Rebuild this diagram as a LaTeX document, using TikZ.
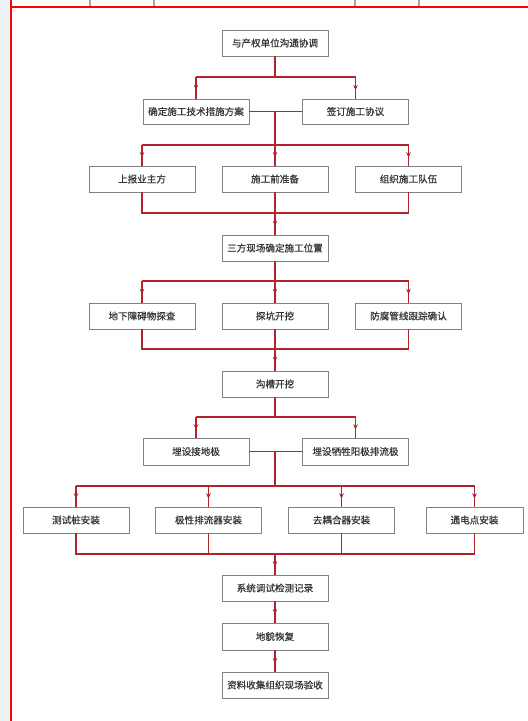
\documentclass[tikz,border=0pt]{standalone}
\usepackage{fontspec}
\newfontfamily\cjk[FakeBold=0.6]{Noto Sans CJK SC}
\usetikzlibrary{arrows.meta,decorations.markings,calc}
\definecolor{lred}{RGB}{178,36,44}
\definecolor{frame}{RGB}{250,0,0}
\definecolor{boxgray}{RGB}{130,130,130}
\definecolor{txtgray}{RGB}{55,55,55}
\definecolor{strip}{RGB}{236,241,246}
\begin{document}
\begin{tikzpicture}[x=1bp,y=-1bp,
  box/.style={draw=boxgray, line width=0.9bp, fill=white, minimum width=106bp, minimum height=26bp,
    inner sep=0pt, text=txtgray, font=\cjk\fontsize{9.6}{10}\selectfont},
  conn/.style={draw=lred, line width=1.9bp},
  marrow/.style={draw=lred, line width=1.9bp, postaction={decorate},
    decoration={markings, mark=at position 0.62 with {\arrow[lred]{Stealth[length=5.5bp,width=4.5bp]}}}}]
\useasboundingbox (0,0) rectangle (528,721);
\fill[white] (0,0) rectangle (528,721);
\fill[strip] (0,0) rectangle (9,721);
% page frame
\draw[gray!70, line width=1.2bp] (90,0) -- (90,6.5) (154,0) -- (154,6.5) (355,0) -- (355,6.5) (419,0) -- (419,6.5);
\draw[frame, line width=2bp] (9.5,7.5) -- (528,7.5);
\draw[frame, line width=2bp] (10.5,0) -- (10.5,721);

% nodes
\node[box] (b1) at (275,43) {与产权单位沟通协调};
\node[box, minimum height=25bp] (b2) at (196,111.5) {确定施工技术措施方案};
\node[box, minimum height=25bp] (b3) at (355.5,111.5) {签订施工协议};
\node[box] (b4) at (142,179) {上报业主方};
\node[box] (b5) at (275,179) {施工前准备};
\node[box] (b6) at (408.5,179) {组织施工队伍};
\node[box] (b7) at (275,248) {三方现场确定施工位置};
\node[box] (b8) at (142,316) {地下障碍物探查};
\node[box] (b9) at (275,316) {探坑开挖};
\node[box] (b10) at (408.5,316) {防腐管线跟踪确认};
\node[box] (b11) at (275,384) {沟槽开挖};
\node[box, minimum height=27bp] (b12) at (196,451.5) {埋设接地极};
\node[box, minimum height=27bp] (b13) at (355.5,451.5) {埋设牺牲阳极排流极};
\node[box] (b14) at (76,520) {测试桩安装};
\node[box] (b15) at (208.5,520) {极性排流器安装};
\node[box] (b16) at (341.5,520) {去耦合器安装};
\node[box, minimum width=97bp] (b17) at (474.5,520) {通电点安装};
\node[box] (b18) at (275,588) {系统调试检测记录};
\node[box, minimum height=27bp] (b19) at (275,636.5) {地貌恢复};
\node[box] (b20) at (275,685) {资料收集组织现场验收};

% junction coordinates
\coordinate (j1) at (275,77);
\coordinate (j2m) at (275,111.5);
\coordinate (j2) at (275,144.7);
\coordinate (j3) at (275,213);
\coordinate (j4) at (275,281);
\coordinate (j5) at (275,349);
\coordinate (j6) at (275,417);
\coordinate (j7m) at (275,451.5);
\coordinate (j7) at (275,486);
\coordinate (j8) at (275,554);

% level 1
\draw[conn] (b1.south) -- (j1);
\draw[conn] (b2.north |- j1) -- (b3.north |- j1);
\draw[marrow] (b2.north |- j1) -- (b2.north);
\draw[marrow] (b3.north |- j1) -- (b3.north);
% level 2
\draw[conn] (b2.east) -- (b3.west);
\draw[conn] (j2m) -- (j2);
\draw[conn] (b4.north |- j2) -- (b6.north |- j2);
\draw[marrow] (b4.north |- j2) -- (b4.north);
\draw[marrow] (j2) -- (b5.north);
\draw[marrow] (b6.north |- j2) -- (b6.north);
% level 3
\draw[conn] (b4.south) -- (b4.south |- j3) -- (b6.south |- j3) -- (b6.south);
\draw[conn] (b5.south) -- (j3);
\draw[marrow] (j3) -- (b7.north);
% level 4
\draw[conn] (b7.south) -- (j4);
\draw[conn] (b8.north |- j4) -- (b10.north |- j4);
\draw[marrow] (b8.north |- j4) -- (b8.north);
\draw[marrow] (j4) -- (b9.north);
\draw[marrow] (b10.north |- j4) -- (b10.north);
% level 5
\draw[conn] (b8.south) -- (b8.south |- j5) -- (b10.south |- j5) -- (b10.south);
\draw[conn] (b9.south) -- (j5);
\draw[marrow] (j5) -- (b11.north);
% level 6
\draw[conn] (b11.south) -- (j6);
\draw[conn] (b12.north |- j6) -- (b13.north |- j6);
\draw[marrow] (b12.north |- j6) -- (b12.north);
\draw[marrow] (b13.north |- j6) -- (b13.north);
% level 7
\draw[conn] (b12.east) -- (b13.west);
\draw[conn] (j7m) -- (j7);
\draw[conn] (b14.north |- j7) -- (b17.north |- j7);
\draw[marrow] (b14.north |- j7) -- (b14.north);
\draw[marrow] (b15.north |- j7) -- (b15.north);
\draw[marrow] (b16.north |- j7) -- (b16.north);
\draw[marrow] (b17.north |- j7) -- (b17.north);
% level 8
\draw[conn] (b14.south) -- (b14.south |- j8) -- (b17.south |- j8) -- (b17.south);
\draw[conn] (b15.south) -- (b15.south |- j8);
\draw[conn] (b16.south) -- (b16.south |- j8);
\draw[marrow] (j8) -- (b18.north);
% bottom chain
\draw[marrow] (b18.south) -- (b19.north);
\draw[marrow] (b19.south) -- (b20.north);
\end{tikzpicture}
\end{document}
